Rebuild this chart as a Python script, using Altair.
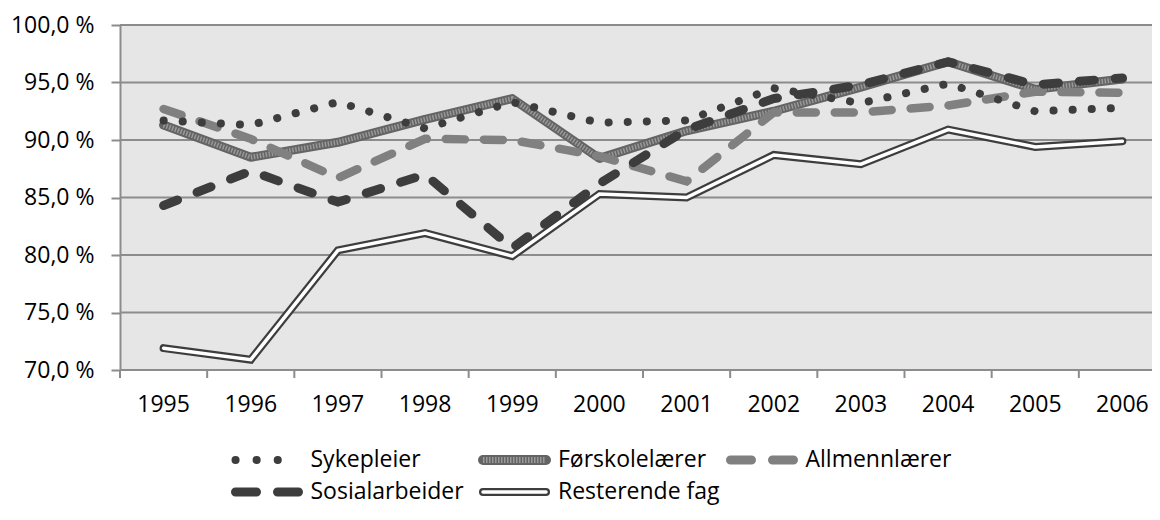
import altair as alt
import pandas as pd

years = ["1995", "1996", "1997", "1998", "1999", "2000",
         "2001", "2002", "2003", "2004", "2005", "2006"]
series = ["Sykepleier", "Førskolelærer", "Allmennlærer", "Sosialarbeider", "Resterende fag"]
sykepleier = [91.7, 91.3, 93.3, 91.0, 93.3, 91.5, 91.7, 94.5, 93.2, 94.9, 92.5, 92.8]
forskolelaerer = [91.3, 88.5, 89.8, 91.8, 93.6, 88.4, 90.8, 92.5, 94.6, 96.8, 94.4, 95.3]
allmennlaerer = [92.7, 90.1, 86.7, 90.1, 90.0, 88.6, 86.4, 92.4, 92.4, 93.0, 94.2, 94.1]
sosialarbeider = [84.3, 87.3, 84.6, 87.0, 80.6, 86.2, 90.9, 93.6, 94.8, 96.8, 94.8, 95.4]
resterende = [71.9, 70.9, 80.4, 81.9, 79.9, 85.3, 85.0, 88.7, 87.9, 90.9, 89.4, 89.9]
y_ticks = [70, 75, 80, 85, 90, 95, 100]

values = [sykepleier, forskolelaerer, allmennlaerer, sosialarbeider, resterende]
rows = []
for name, vals in zip(series, values):
    for yr, v in zip(years, vals):
        rows.append({"year": yr, "series": name, "value": v})
df = pd.DataFrame(rows)

FONT = "Open Sans"
DARK = "#3d3d3d"
MID = "#808080"
GRID = "#8c8c8c"
HATCH_BASE = "#646464"
HATCH_TEX = "#a6a6a6"

# layout (pixels)
PAD_L, PAD_T = 112, 17
W, H = 1032, 345          # visible plot area; category range runs a bit past it
RANGE = 1046
TOTAL_H = 497

x_scale = alt.Scale(type="band", paddingInner=0, paddingOuter=0, range=[0, RANGE])
x_axis = alt.Axis(title=None, labelAngle=0, ticks=False, domain=False, grid=False,
                  labelFont=FONT, labelFontSize=23, labelColor="black",
                  labelPadding=23)
y_scale = alt.Scale(domain=[70, 100])
y_axis = alt.Axis(title=None, values=y_ticks, tickSize=9, tickColor=GRID, tickWidth=2,
                  domainColor=GRID, domainWidth=2, grid=False,
                  labelFont=FONT, labelFontSize=23, labelColor="black",
                  labelPadding=17,
                  labelExpr="replace(format(datum.value, '.1f'), '.', ',') + ' %'")

x_enc = alt.X("year:O", bandPosition=0.5, scale=x_scale, axis=x_axis)
y_enc = alt.Y("value:Q", scale=y_scale, axis=y_axis)

grid = alt.Chart(pd.DataFrame({"value": y_ticks})).mark_rule(
    color=GRID, strokeWidth=2).encode(y=y_enc)

xticks = alt.Chart(pd.DataFrame({"year": years})).mark_rule(
    color=GRID, strokeWidth=2).encode(
    x=alt.X("year:O", bandPosition=0, scale=x_scale, axis=x_axis),
    y=alt.value(H), y2=alt.value(H + 8))

base = alt.Chart(df).encode(x=x_enc, y=y_enc)


def line(name, **kw):
    return base.transform_filter(alt.datum.series == name).mark_line(**kw)


main = alt.layer(
    grid,
    xticks,
    line("Førskolelærer", color=HATCH_BASE, strokeWidth=9, strokeCap="round", strokeJoin="round"),
    line("Førskolelærer", color=HATCH_TEX, strokeWidth=5, strokeDash=[1.5, 1.5], opacity=0.8),
    line("Resterende fag", color=DARK, strokeWidth=8, strokeCap="round", strokeJoin="miter"),
    line("Resterende fag", color="white", strokeWidth=3.5, strokeCap="round", strokeJoin="miter"),
    line("Allmennlærer", color=MID, strokeWidth=8.5, strokeCap="round", strokeDash=[19, 19]),
    line("Sosialarbeider", color=DARK, strokeWidth=9, strokeCap="round", strokeDash=[15, 21]),
    line("Sykepleier", color=DARK, strokeWidth=8, strokeCap="round", strokeDash=[0.1, 19]),
)

# legend (below the plot, positioned through its own scales)
STEP = 247.5               # px between legend columns
ROW0, ROW1 = 435.0, 467.0  # px below plot top of legend rows
leg = pd.DataFrame({
    "series": series,
    "col": [i % 3 for i in range(len(series))],
    "row": [i // 3 for i in range(len(series))],
})
leg["xs"] = leg["col"]
leg["xe"] = leg["col"] + 63 / STEP
leg["xt"] = leg["col"] + 75 / STEP
x0 = -115.5 / STEP
lx = alt.Scale(domain=[x0, x0 + W / STEP], nice=False, zero=False)
rstep = ROW1 - ROW0
ya = -ROW0 / rstep
ly = alt.Scale(domain=[ya, ya + H / rstep], nice=False, zero=False, reverse=True)
lbase = alt.Chart(leg).encode(y=alt.Y("row:Q", scale=ly, axis=None))


def sym(name, **kw):
    return lbase.transform_filter(alt.datum.series == name).mark_rule(**kw).encode(
        x=alt.X("xs:Q", scale=lx, axis=None), x2="xe:Q")


legend = alt.layer(
    sym("Sykepleier", color=DARK, strokeWidth=8, strokeCap="round", strokeDash=[0.1, 21]),
    sym("Førskolelærer", color=HATCH_BASE, strokeWidth=10, strokeCap="round"),
    sym("Førskolelærer", color=HATCH_TEX, strokeWidth=6, strokeDash=[1.5, 1.5], opacity=0.8),
    sym("Allmennlærer", color=MID, strokeWidth=9, strokeCap="round", strokeDash=[21, 21]),
    sym("Sosialarbeider", color=DARK, strokeWidth=9, strokeCap="round", strokeDash=[21, 21]),
    sym("Resterende fag", color=DARK, strokeWidth=8, strokeCap="round"),
    sym("Resterende fag", color="white", strokeWidth=3.5, strokeCap="round"),
    lbase.mark_text(align="left", baseline="middle", font=FONT, fontSize=23,
                    color="black").encode(
        x=alt.X("xt:Q", scale=lx, axis=None), text="series:N"),
)

chart = alt.layer(main, legend).resolve_scale(
    x="independent", y="independent"
).properties(
    width=W, height=H,
    view=alt.ViewBackground(fill="#e6e6e6", stroke="transparent"),
    autosize=alt.AutoSizeParams(type="none"),
    padding={"left": PAD_L, "top": PAD_T, "right": 0, "bottom": TOTAL_H - PAD_T - H},
    background="white",
)

chart.save("out.html", embed_options={"renderer": "svg", "actions": False})
